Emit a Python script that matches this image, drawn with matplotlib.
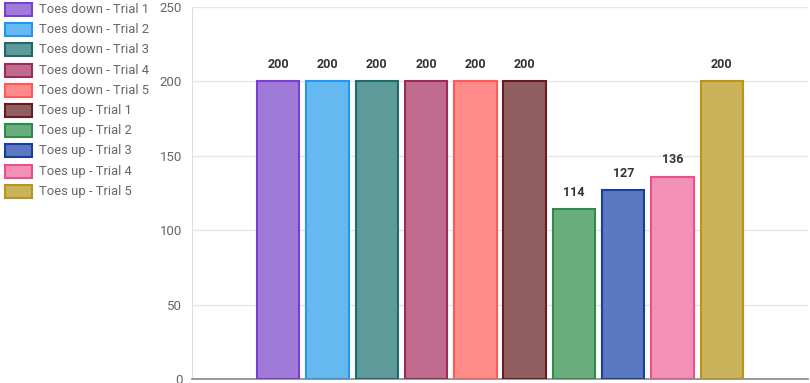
import matplotlib
matplotlib.use("Agg")
import matplotlib.pyplot as plt
from matplotlib.patches import Rectangle

labels = ["Toes down - Trial 1", "Toes down - Trial 2", "Toes down - Trial 3",
          "Toes down - Trial 4", "Toes down - Trial 5", "Toes up - Trial 1",
          "Toes up - Trial 2", "Toes up - Trial 3", "Toes up - Trial 4",
          "Toes up - Trial 5"]
values = [200, 200, 200, 200, 200, 200, 114, 127, 136, 200]
fill_colors = ["#a07ad9", "#66b9f0", "#5e9a9a", "#c06b8e", "#ff8a8a",
               "#915e60", "#6aae7e", "#5b78c0", "#f290b5", "#cbb35c"]
edge_colors = ["#7b3fd0", "#2196f3", "#1f6b6b", "#9c2a5a", "#ff5a5a",
               "#6b1a1f", "#2e8b4a", "#1a3ea0", "#ec4f8a", "#b8961a"]
y_ticks = [0, 50, 100, 150, 200, 250]

plt.rcParams['font.family'] = ['Roboto', 'DejaVu Sans']

W, H = 810, 383
fig = plt.figure(figsize=(W / 100, H / 100), dpi=100)
ax = fig.add_axes([192 / W, 1 - 379 / H, (808 - 192) / W, (379 - 7) / H])

n = len(values)
xs = list(range(n))
ax.bar(xs, values, width=0.86, color=fill_colors, edgecolor=edge_colors,
       linewidth=1.5, zorder=3)
for x, v in zip(xs, values):
    ax.annotate(str(v), (x, v), xytext=(0, 7.5), textcoords="offset points",
                ha="center", va="bottom", fontsize=9, fontweight="bold",
                color="#333333", zorder=4)

margin = n * 0.125
ax.set_xlim(-0.5 - margin, n - 0.5 + margin)
ax.set_ylim(0, 250)
ax.set_yticks(y_ticks)
ax.set_xticks([])
ax.tick_params(axis="y", length=0, labelsize=9.5, labelcolor="#666666", pad=7)
ax.grid(axis="y", color="#e6e6e6", linewidth=1, zorder=0)
for s in ["top", "right"]:
    ax.spines[s].set_visible(False)
ax.spines["left"].set_color("#dddddd")
ax.spines["bottom"].set_color("#888888")
ax.spines["bottom"].set_linewidth(1.2)

# legend on the left
for i, (lab, fc, ec) in enumerate(zip(labels, fill_colors, edge_colors)):
    yc = 9.5 + i * 20.2
    r = Rectangle((5 / W, 1 - (yc + 6.5) / H), 27 / W, 13 / H,
                  transform=fig.transFigure, facecolor=fc, edgecolor=ec,
                  linewidth=1.5)
    fig.patches.append(r)
    fig.text(39 / W, 1 - yc / H, lab, ha="left", va="center", fontsize=9.4,
             color="#666666")

fig.savefig("out.png", dpi=100)
